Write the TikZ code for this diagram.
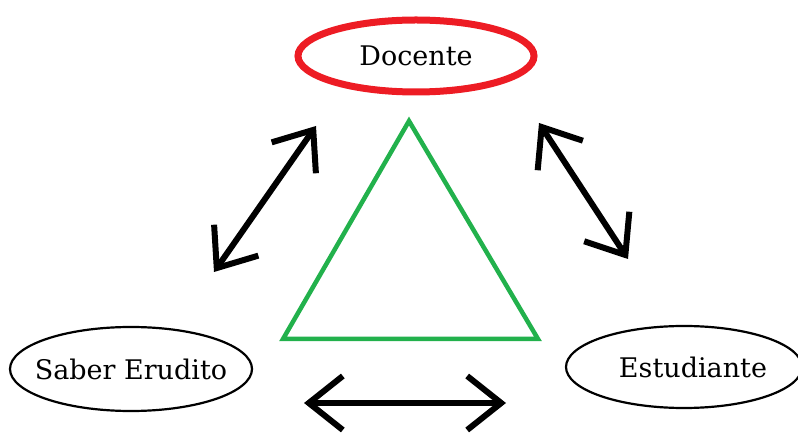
\documentclass[tikz,border=0pt]{standalone}
\usepackage{fontspec}
\setmainfont{DejaVu Serif}
\usetikzlibrary{shapes.geometric,arrows.meta}
\definecolor{paintred}{RGB}{237,28,36}
\definecolor{paintgreen}{RGB}{34,177,76}

\begin{document}
\begin{tikzpicture}[x=1pt, y=-1pt,
  actor/.style={ellipse, draw=black, line width=2.2pt, inner sep=0pt, minimum width=242pt, minimum height=84pt, font=\fontsize{27}{30}\selectfont},
  link/.style={line width=6pt, line cap=round, {Straight Barb[length=34pt,width=54pt,line width=6pt]}-{Straight Barb[length=34pt,width=54pt,line width=6pt]}}]
\useasboundingbox (0,0) rectangle (798,435);

\node (docente) [actor, draw=paintred, line width=7pt, minimum width=236pt, minimum height=72pt] at (416,56) {\makebox[0pt]{Docente}};
\node (saber) [actor] at (131,369) {\makebox[0pt]{Saber Erudito}};
\node (estudiante) [actor, minimum width=236pt, minimum height=82pt] at (684,367) {\makebox[0pt]{\hspace{18pt}Estudiante}};

% triangle
\coordinate (top) at (409,121);
\coordinate (left) at (283,339);
\coordinate (right) at (538,339);
\draw[paintgreen, line width=4.5pt, line join=miter] (top) -- (left) -- (right) -- cycle;

% arrows
\coordinate (a1) at (214,272);
\coordinate (a2) at (316,126);
\coordinate (b1) at (539,123);
\coordinate (b2) at (628,259);
\coordinate (c1) at (304,403);
\coordinate (c2) at (506,403);
\draw[link] (a1) -- (a2);
\draw[link] (b1) -- (b2);
\draw[link] (c1) -- (c2);
\end{tikzpicture}
\end{document}
